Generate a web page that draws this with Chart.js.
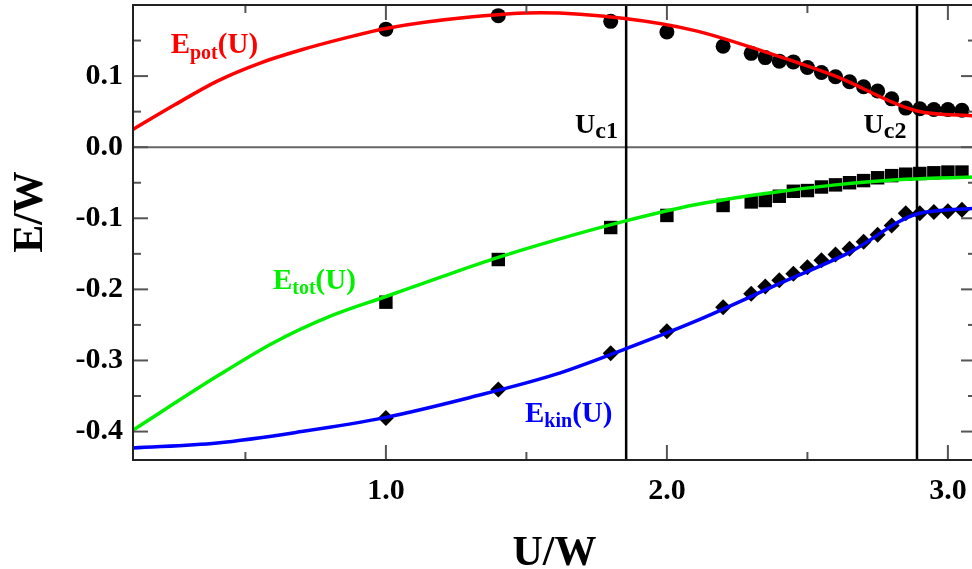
<!DOCTYPE html>
<html>
<head>
<meta charset="utf-8">
<script src="https://cdn.jsdelivr.net/npm/chart.js@4.4.1/dist/chart.umd.min.js"></script>
<style>
  html, body { margin: 0; padding: 0; background: #fff; overflow: hidden; }
  canvas { display: block; }
</style>
</head>
<body>
<canvas id="chart" width="990" height="569"></canvas>
<script>
// DMFT points (U/W)
const uPoints = [1.0, 1.4, 1.8, 2.0, 2.2, 2.3, 2.35, 2.4, 2.45, 2.5, 2.55, 2.6, 2.65, 2.7, 2.75, 2.8, 2.85, 2.9, 2.95, 3.0, 3.05];
const ePotPoints = [0.166, 0.185, 0.177, 0.162, 0.142, 0.132, 0.126, 0.121, 0.120, 0.112, 0.105, 0.099, 0.092, 0.085, 0.079, 0.068, 0.055, 0.054, 0.053, 0.053, 0.052];
const eTotPoints = [-0.218, -0.158, -0.113, -0.096, -0.082, -0.077, -0.075, -0.069, -0.062, -0.061, -0.056, -0.053, -0.050, -0.047, -0.043, -0.040, -0.038, -0.037, -0.036, -0.035, -0.035];
const eKinPoints = [-0.381, -0.341, -0.290, -0.259, -0.225, -0.206, -0.196, -0.187, -0.178, -0.169, -0.159, -0.151, -0.143, -0.133, -0.123, -0.110, -0.093, -0.093, -0.091, -0.090, -0.088];

// smooth curves
const potFitU = [0.1, 0.25, 0.4, 0.55, 0.7, 0.85, 1.0, 1.3, 1.55, 1.85, 2.1, 2.35, 2.6, 2.89, 3.1];
const potFitE = [0.025, 0.060, 0.093, 0.118, 0.137, 0.153, 0.167, 0.183, 0.189, 0.181, 0.164, 0.134, 0.100, 0.051, 0.044];
const totFitU = [0.1, 0.4, 0.6, 0.8, 1.0, 1.2, 1.4, 1.6, 1.85, 2.1, 2.35, 2.6, 2.85, 3.1];
const totFitE = [-0.398, -0.322, -0.275, -0.238, -0.210, -0.182, -0.155, -0.131, -0.104, -0.081, -0.065, -0.053, -0.045, -0.042];
const kinFitU = [0.1, 0.4, 0.7, 1.0, 1.3, 1.6, 1.85, 2.1, 2.4, 2.65, 2.89, 3.1];
const kinFitE = [-0.423, -0.416, -0.400, -0.380, -0.352, -0.320, -0.284, -0.245, -0.192, -0.148, -0.094, -0.086];

const xTicks = [1, 2, 3];
const xMinorTicks = [0.5, 1.5, 2.5];
const yTicks = [-0.4, -0.3, -0.2, -0.1, 0, 0.1];
const yMinorTicks = [-0.35, -0.25, -0.15, -0.05, 0.05, 0.15];
const uc1 = 1.855, uc2 = 2.89;

const SERIF = '"Liberation Serif", "Times New Roman", serif';

function xy(xs, ys) {
    return xs.map((x, i) => ({ x: x, y: ys[i] }));
}

function seg(ctx, x1, y1, x2, y2) {
    ctx.beginPath();
    ctx.moveTo(x1, y1);
    ctx.lineTo(x2, y2);
    ctx.stroke();
}

function subLabel(ctx, px, py, l) {
    ctx.fillStyle = l.color;
    ctx.textAlign = 'left';
    ctx.textBaseline = 'alphabetic';
    ctx.font = `bold ${l.size}px ${SERIF}`;
    ctx.fillText(l.main, px, py);
    let w = ctx.measureText(l.main).width;
    ctx.font = `bold ${l.subSize}px ${SERIF}`;
    ctx.fillText(l.sub, px + w, py + l.drop);
    w += ctx.measureText(l.sub).width;
    if (l.tail) {
        ctx.font = `bold ${l.size}px ${SERIF}`;
        ctx.fillText(l.tail, px + w, py);
    }
}

const labels = [
    { u: 0.234, e: 0.132, main: 'E', sub: 'pot', tail: '(U)', color: '#ff0000', size: 29, subSize: 20, drop: 6 },
    { u: 0.598, e: -0.199, main: 'E', sub: 'tot', tail: '(U)', color: '#00f000', size: 29, subSize: 20, drop: 5 },
    { u: 1.495, e: -0.387, main: 'E', sub: 'kin', tail: '(U)', color: '#0000ff', size: 29, subSize: 20, drop: 5 },
    { u: 1.673, e: 0.020, main: 'U', sub: 'c1', tail: '', color: '#000', size: 28, subSize: 24, drop: 5 },
    { u: 2.700, e: 0.020, main: 'U', sub: 'c2', tail: '', color: '#000', size: 28, subSize: 24, drop: 5 }
];

const framePlugin = {
    id: 'framePlugin',
    beforeDatasetsDraw(chart) {
        const { ctx, chartArea: a, scales: { x, y } } = chart;
        ctx.save();
        ctx.strokeStyle = '#666';
        ctx.lineWidth = 2;
        const y0 = y.getPixelForValue(0);
        seg(ctx, a.left, y0, a.right, y0);
        ctx.strokeStyle = '#000';
        ctx.lineWidth = 2.5;
        [uc1, uc2].forEach(u => {
            const px = x.getPixelForValue(u);
            seg(ctx, px, a.top, px, a.bottom);
        });
        ctx.restore();
    },
    afterDatasetsDraw(chart) {
        const { ctx, chartArea: a, scales: { x, y } } = chart;
        ctx.save();
        // inward ticks on all four sides
        ctx.strokeStyle = '#555';
        ctx.lineWidth = 2;
        const xt = (vals, len) => {
            vals.forEach(v => {
                const px = x.getPixelForValue(v);
                seg(ctx, px, a.bottom, px, a.bottom - len);
                seg(ctx, px, a.top, px, a.top + len);
            });
        };
        const yt = (vals, len) => {
            vals.forEach(v => {
                const py = y.getPixelForValue(v);
                seg(ctx, a.left, py, a.left + len, py);
                seg(ctx, a.right, py, a.right - len, py);
            });
        };
        xt(xTicks, 15);
        xt(xMinorTicks, 8);
        yt(yTicks, 15);
        yt(yMinorTicks, 8);
        // frame
        ctx.strokeStyle = '#222';
        ctx.lineWidth = 2;
        ctx.strokeRect(a.left, a.top, a.right - a.left, a.bottom - a.top);

        labels.forEach(l => subLabel(ctx, x.getPixelForValue(l.u), y.getPixelForValue(l.e), l));

        // axis titles
        ctx.fillStyle = '#000';
        ctx.font = `bold 42px ${SERIF}`;
        ctx.textAlign = 'center';
        ctx.textBaseline = 'alphabetic';
        ctx.fillText('U/W', (a.left + a.right) / 2, 565);
        ctx.translate(42, 212);
        ctx.rotate(-Math.PI / 2);
        ctx.fillText('E/W', 0, 0);
        ctx.restore();
    }
};

const tickFont = { family: SERIF, size: 30, weight: 'bold' };

new Chart(document.getElementById('chart'), {
    type: 'scatter',
    data: {
        datasets: [
            { type: 'line', data: xy(potFitU, potFitE), borderColor: '#ff0000', borderWidth: 3.5, pointRadius: 0, cubicInterpolationMode: 'monotone', fill: false, order: 0 },
            { type: 'line', data: xy(totFitU, totFitE), borderColor: '#00f000', borderWidth: 3.5, pointRadius: 0, cubicInterpolationMode: 'monotone', fill: false, order: 0 },
            { type: 'line', data: xy(kinFitU, kinFitE), borderColor: '#0000ff', borderWidth: 3.5, pointRadius: 0, cubicInterpolationMode: 'monotone', fill: false, order: 0 },
            { data: xy(uPoints, ePotPoints), pointStyle: 'circle', pointRadius: 7.5, backgroundColor: '#000', borderColor: '#000', borderWidth: 0, order: 1 },
            { data: xy(uPoints, eTotPoints), pointStyle: 'rect', pointRadius: 9.5, backgroundColor: '#000', borderColor: '#000', borderWidth: 0, order: 1 },
            { data: xy(uPoints, eKinPoints), pointStyle: 'rectRot', pointRadius: 8, backgroundColor: '#000', borderColor: '#000', borderWidth: 0, order: 1 }
        ]
    },
    options: {
        responsive: false,
        animation: false,
        layout: { autoPadding: false, padding: { top: 5, right: 14, left: 0, bottom: 0 } },
        plugins: { legend: { display: false }, tooltip: { enabled: false } },
        scales: {
            x: {
                type: 'linear',
                min: 0.1,
                max: 3.1,
                grid: { display: false },
                border: { display: false },
                ticks: { font: tickFont, color: '#000', padding: 5, maxRotation: 0, autoSkip: false, callback: v => v.toFixed(1) },
                afterBuildTicks: s => { s.ticks = xTicks.map(v => ({ value: v })); },
                afterFit: s => { s.height = 109; s.paddingLeft = 0; s.paddingRight = 0; }
            },
            y: {
                type: 'linear',
                min: -0.44,
                max: 0.2,
                grid: { display: false },
                border: { display: false },
                ticks: { font: tickFont, color: '#000', padding: 2, autoSkip: false, callback: v => v.toFixed(1) },
                afterBuildTicks: s => { s.ticks = yTicks.map(v => ({ value: v })); },
                afterFit: s => { s.width = 133; s.paddingTop = 0; s.paddingBottom = 0; }
            }
        }
    },
    plugins: [framePlugin]
});
</script>
</body>
</html>
